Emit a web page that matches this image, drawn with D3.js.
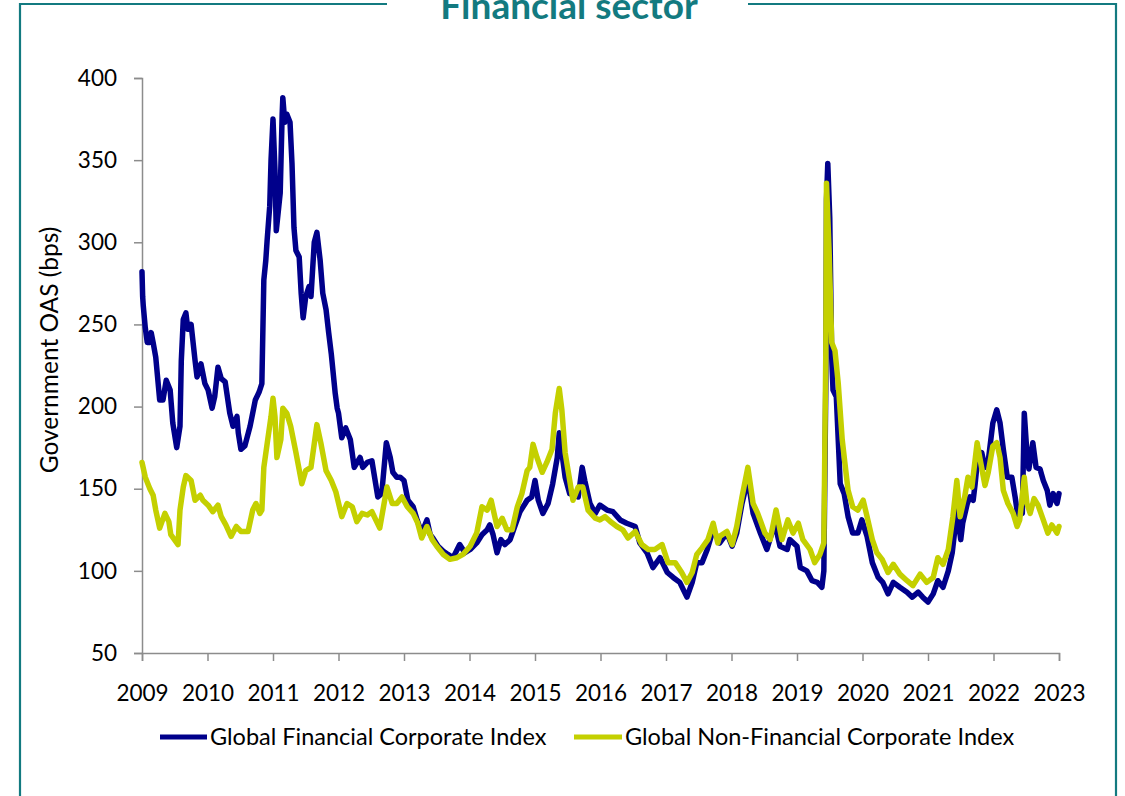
<!DOCTYPE html>
<html>
<head>
<meta charset="utf-8">
<script src="https://cdn.jsdelivr.net/npm/d3@7"></script>
<style>
  html, body { margin: 0; padding: 0; background: #ffffff; }
  svg { display: block; }
  text { font-family: Lato, "Open Sans", "Liberation Sans", sans-serif; }
</style>
</head>
<body>
<svg id="chart" width="1125" height="796"></svg>
<script>
// Spread over government bonds, in basis points; dates as decimal years
const finDates = [2009.00, 2009.01, 2009.02, 2009.05, 2009.08, 2009.12, 2009.14, 2009.17, 2009.21, 2009.27,
  2009.32, 2009.37, 2009.43, 2009.47, 2009.53, 2009.58, 2009.60, 2009.63, 2009.67, 2009.70,
  2009.75, 2009.81, 2009.84, 2009.90, 2009.96, 2010.01, 2010.07, 2010.11, 2010.16, 2010.21,
  2010.27, 2010.34, 2010.39, 2010.45, 2010.47, 2010.51, 2010.57, 2010.65, 2010.73, 2010.79,
  2010.83, 2010.86, 2010.89, 2010.91, 2010.95, 2010.97, 2011.00, 2011.03, 2011.05, 2011.11,
  2011.14, 2011.15, 2011.18, 2011.21, 2011.26, 2011.29, 2011.32, 2011.35, 2011.40, 2011.43,
  2011.46, 2011.50, 2011.55, 2011.58, 2011.63, 2011.67, 2011.72, 2011.76, 2011.81, 2011.85,
  2011.89, 2011.95, 2011.98, 2012.00, 2012.05, 2012.11, 2012.18, 2012.24, 2012.33, 2012.37,
  2012.44, 2012.51, 2012.60, 2012.66, 2012.73, 2012.79, 2012.83, 2012.89, 2012.94, 2013.00,
  2013.06, 2013.14, 2013.20, 2013.27, 2013.35, 2013.40, 2013.44, 2013.52, 2013.60, 2013.67,
  2013.75, 2013.85, 2013.93, 2014.01, 2014.11, 2014.19, 2014.27, 2014.31, 2014.36, 2014.42,
  2014.48, 2014.54, 2014.62, 2014.69, 2014.77, 2014.85, 2014.88, 2014.95, 2015.00, 2015.05,
  2015.12, 2015.20, 2015.27, 2015.34, 2015.37, 2015.41, 2015.46, 2015.53, 2015.61, 2015.66,
  2015.72, 2015.76, 2015.84, 2015.92, 2015.99, 2016.10, 2016.19, 2016.30, 2016.40, 2016.53,
  2016.60, 2016.71, 2016.80, 2016.91, 2017.02, 2017.11, 2017.21, 2017.32, 2017.40, 2017.47,
  2017.55, 2017.63, 2017.72, 2017.82, 2017.93, 2018.01, 2018.08, 2018.16, 2018.25, 2018.33,
  2018.44, 2018.54, 2018.66, 2018.74, 2018.85, 2018.89, 2019.00, 2019.05, 2019.15, 2019.23,
  2019.31, 2019.38, 2019.41, 2019.44, 2019.45, 2019.47, 2019.50, 2019.53, 2019.55, 2019.60,
  2019.66, 2019.72, 2019.78, 2019.85, 2019.93, 2019.99, 2020.07, 2020.15, 2020.24, 2020.31,
  2020.39, 2020.47, 2020.57, 2020.68, 2020.76, 2020.85, 2020.92, 2021.00, 2021.08, 2021.15,
  2021.23, 2021.31, 2021.37, 2021.41, 2021.44, 2021.50, 2021.53, 2021.60, 2021.64, 2021.69,
  2021.72, 2021.76, 2021.82, 2021.87, 2021.92, 2021.99, 2022.05, 2022.10, 2022.15, 2022.21,
  2022.28, 2022.33, 2022.37, 2022.44, 2022.47, 2022.51, 2022.54, 2022.60, 2022.65, 2022.71,
  2022.76, 2022.82, 2022.86, 2022.91, 2022.97, 2023.00];
const finValues = [282, 267, 261, 248, 239, 239, 245, 239, 230, 204,
  204, 216, 210, 190, 175, 188, 228, 253, 257, 247,
  250, 228, 218, 226, 214, 210, 199, 206, 224, 217,
  215, 196, 188, 194, 184, 174, 176, 188, 204, 209,
  214, 277, 289, 301, 322, 350, 375, 344, 307, 330,
  378, 388, 373, 378, 373, 348, 309, 295, 291, 269,
  254, 267, 273, 267, 300, 306, 289, 269, 259, 245,
  232, 208, 199, 196, 181, 187, 180, 163, 169, 163,
  166, 167, 145, 147, 178, 169, 160, 157, 157, 155,
  143, 139, 131, 123, 131, 122, 120, 115, 112, 110,
  108, 116, 111, 113, 117, 122, 125, 128, 122, 111,
  119, 116, 119, 127, 136, 141, 143, 145, 155, 143,
  135, 141, 153, 169, 184, 172, 157, 147, 146, 145,
  163, 155, 141, 135, 140, 137, 136, 131, 129, 127,
  117, 111, 102, 108, 99, 96, 93, 84, 93, 105,
  105, 113, 125, 117, 123, 115, 123, 141, 156, 135,
  123, 113, 129, 115, 113, 119, 115, 102, 100, 94,
  93, 90, 100, 214, 326, 348, 315, 230, 210, 206,
  153, 147, 133, 123, 123, 131, 121, 105, 96, 93,
  86, 93, 90, 87, 84, 87, 84, 81, 86, 94,
  90, 100, 111, 125, 137, 119, 129, 141, 145, 143,
  153, 169, 172, 163, 167, 190, 198, 190, 174, 157,
  157, 145, 134, 135, 196, 172, 162, 178, 163, 162,
  155, 149, 140, 147, 141, 147];

const nonFinDates = [2009.00, 2009.05, 2009.12, 2009.17, 2009.21, 2009.27, 2009.35, 2009.41, 2009.44, 2009.55,
  2009.58, 2009.63, 2009.67, 2009.75, 2009.81, 2009.89, 2009.93, 2010.01, 2010.08, 2010.16,
  2010.21, 2010.28, 2010.36, 2010.44, 2010.51, 2010.62, 2010.69, 2010.74, 2010.80, 2010.83,
  2010.86, 2010.92, 2010.97, 2011.00, 2011.03, 2011.06, 2011.12, 2011.15, 2011.21, 2011.27,
  2011.35, 2011.44, 2011.50, 2011.58, 2011.67, 2011.73, 2011.81, 2011.89, 2011.96, 2012.05,
  2012.13, 2012.21, 2012.28, 2012.36, 2012.44, 2012.51, 2012.63, 2012.74, 2012.82, 2012.89,
  2012.97, 2013.05, 2013.14, 2013.21, 2013.27, 2013.35, 2013.43, 2013.50, 2013.60, 2013.70,
  2013.81, 2013.90, 2014.01, 2014.11, 2014.19, 2014.27, 2014.33, 2014.42, 2014.50, 2014.57,
  2014.65, 2014.73, 2014.80, 2014.88, 2014.92, 2014.97, 2015.03, 2015.11, 2015.18, 2015.26,
  2015.31, 2015.37, 2015.41, 2015.46, 2015.53, 2015.58, 2015.66, 2015.73, 2015.81, 2015.92,
  2015.99, 2016.07, 2016.15, 2016.25, 2016.34, 2016.42, 2016.53, 2016.63, 2016.73, 2016.83,
  2016.94, 2017.03, 2017.14, 2017.24, 2017.32, 2017.40, 2017.47, 2017.55, 2017.64, 2017.72,
  2017.79, 2017.82, 2017.93, 2018.01, 2018.08, 2018.16, 2018.25, 2018.33, 2018.40, 2018.51,
  2018.59, 2018.68, 2018.77, 2018.86, 2018.94, 2019.02, 2019.09, 2019.20, 2019.27, 2019.35,
  2019.41, 2019.44, 2019.45, 2019.49, 2019.53, 2019.58, 2019.63, 2019.69, 2019.73, 2019.78,
  2019.85, 2019.93, 2020.01, 2020.07, 2020.15, 2020.22, 2020.30, 2020.39, 2020.47, 2020.57,
  2020.68, 2020.77, 2020.88, 2020.98, 2021.08, 2021.15, 2021.23, 2021.31, 2021.38, 2021.44,
  2021.49, 2021.56, 2021.61, 2021.67, 2021.75, 2021.79, 2021.87, 2021.92, 2021.99, 2022.05,
  2022.10, 2022.15, 2022.22, 2022.30, 2022.36, 2022.40, 2022.47, 2022.51, 2022.56, 2022.62,
  2022.68, 2022.76, 2022.83, 2022.89, 2022.97, 2023.00];
const nonFinValues = [166, 157, 150, 146, 137, 126, 135, 130, 122, 116,
  137, 151, 158, 155, 143, 146, 143, 140, 136, 140,
  133, 128, 121, 127, 124, 124, 137, 141, 135, 137,
  163, 180, 194, 205, 194, 169, 180, 199, 196, 188,
  172, 153, 161, 163, 189, 178, 161, 155, 148, 133,
  141, 139, 130, 135, 134, 136, 126, 151, 141, 141,
  145, 139, 135, 129, 120, 127, 119, 115, 110, 107,
  108, 110, 115, 123, 139, 137, 143, 127, 132, 125,
  125, 139, 147, 161, 163, 177, 169, 160, 166, 174,
  196, 211, 198, 172, 155, 143, 151, 151, 137, 132,
  131, 133, 130, 127, 125, 120, 124, 116, 113, 113,
  116, 105, 105, 99, 93, 99, 110, 114, 119, 129,
  117, 121, 124, 116, 127, 145, 163, 141, 135, 123,
  119, 137, 119, 131, 123, 129, 119, 113, 105, 110,
  117, 234, 336, 295, 239, 234, 214, 180, 166, 149,
  139, 137, 143, 133, 119, 111, 107, 99, 104, 98,
  94, 91, 98, 93, 96, 108, 104, 113, 133, 155,
  133, 145, 157, 151, 178, 169, 152, 160, 176, 178,
  169, 149, 141, 135, 127, 131, 157, 141, 135, 144,
  140, 131, 123, 128, 123, 127];

const yTicks = [50, 100, 150, 200, 250, 300, 350, 400];
const xTicks = [2009, 2010, 2011, 2012, 2013, 2014, 2015, 2016, 2017, 2018, 2019, 2020, 2021, 2022, 2023];

const seriesNames = ["Global Financial Corporate Index", "Global Non-Financial Corporate Index"];
const seriesColors = ["#00008b", "#c4d000"];

const svg = d3.select("#chart");
const teal = "#137a80";

// Frame with a gap for the heading
svg.append("path")
  .attr("d", "M387,4 H20 V800 M748,4 H1116 V800")
  .attr("fill", "none")
  .attr("stroke", teal)
  .attr("stroke-width", 2.2);

svg.append("text")
  .attr("x", 569)
  .attr("y", 19)
  .attr("text-anchor", "middle")
  .attr("font-size", 37)
  .attr("font-weight", "bold")
  .attr("fill", teal)
  .text("Financial sector");

const x = d3.scaleLinear().domain([2009, 2023]).range([142, 1059]);
const y = d3.scaleLinear().domain([50, 400]).range([653, 78]);

const axisColor = "#8c8c8c";

const yAxis = svg.append("g")
  .attr("transform", "translate(142,0)")
  .call(d3.axisLeft(y).tickValues(yTicks).tickSize(8).tickPadding(17).tickFormat(d3.format("d")));
const xAxis = svg.append("g")
  .attr("transform", "translate(0,653)")
  .call(d3.axisBottom(x).tickValues(xTicks).tickSize(8).tickPadding(24).tickFormat(d3.format("d")));

[yAxis, xAxis].forEach(g => {
  g.select(".domain").attr("stroke", axisColor).attr("stroke-width", 1.5);
  g.selectAll(".tick line").attr("stroke", axisColor).attr("stroke-width", 1.5);
  g.selectAll(".tick text")
    .attr("fill", "#000")
    .attr("font-size", 22.5)
    .style("font-family", "Lato, 'Open Sans', sans-serif");
});

svg.append("text")
  .attr("transform", "translate(58,350) rotate(-90)")
  .attr("text-anchor", "middle")
  .attr("font-size", 24.5)
  .attr("fill", "#000")
  .text("Government OAS (bps)");

const line = d3.line()
  .x(d => x(d[0]))
  .y(d => y(d[1]));

const finSeries = d3.zip(finDates, finValues);
const nonFinSeries = d3.zip(nonFinDates, nonFinValues);

[finSeries, nonFinSeries].forEach((data, i) => {
  svg.append("path")
    .datum(data)
    .attr("fill", "none")
    .attr("stroke", seriesColors[i])
    .attr("stroke-width", 5.5)
    .attr("stroke-linejoin", "round")
    .attr("stroke-linecap", "round")
    .attr("d", line);
});

// Legend
const legendItems = [
  { x0: 160, x1: 207, tx: 210 },
  { x0: 574, x1: 622, tx: 625 }
];
legendItems.forEach((it, i) => {
  svg.append("line")
    .attr("x1", it.x0).attr("x2", it.x1)
    .attr("y1", 737).attr("y2", 737)
    .attr("stroke", seriesColors[i])
    .attr("stroke-width", 5);
  svg.append("text")
    .attr("x", it.tx)
    .attr("y", 737)
    .attr("dy", "0.35em")
    .attr("font-size", 23.5)
    .attr("fill", "#000")
    .text(seriesNames[i]);
});
</script>
</body>
</html>
